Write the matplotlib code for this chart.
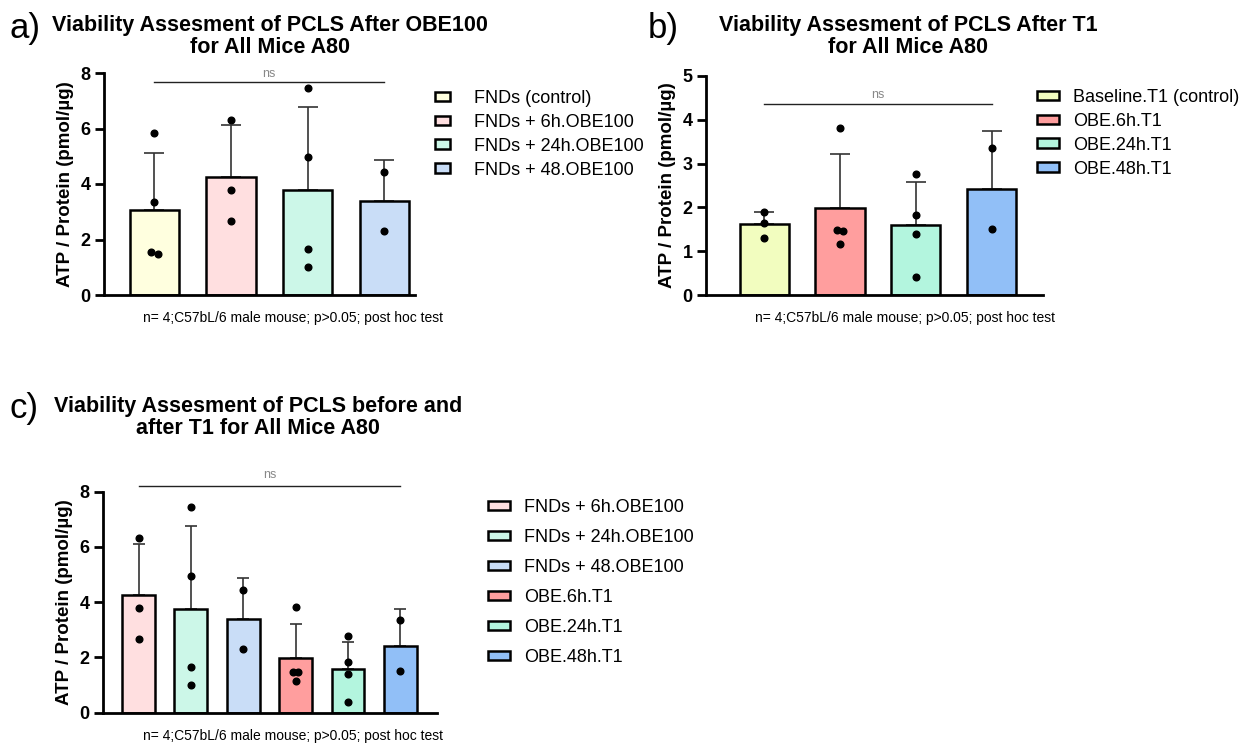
import matplotlib
matplotlib.use('Agg')

import numpy as np
import matplotlib.pyplot as plt
from matplotlib.patches import Patch

plt.rcParams['font.family'] = ['Liberation Sans', 'DejaVu Sans']

W, H = 1241, 744

fnd_ctrl = [5.85, 3.35, 1.56, 1.48]
fnd_6h = [6.31, 3.78, 2.68]
fnd_24h = [7.45, 4.96, 1.66, 1.00]
fnd_48h = [4.44, 2.32]
base_t1 = [1.89, 1.64, 1.30]
obe_6h = [3.82, 1.49, 1.46, 1.16]
obe_24h = [2.76, 1.83, 1.39, 0.40]
obe_48h = [3.36, 1.50]

labels_a = ['FNDs (control)', 'FNDs + 6h.OBE100', 'FNDs + 24h.OBE100', 'FNDs + 48.OBE100']
labels_b = ['Baseline.T1 (control)', 'OBE.6h.T1', 'OBE.24h.T1', 'OBE.48h.T1']
labels_c = labels_a[1:] + labels_b[1:]

colors_a = ['#FFFFDF', '#FFDFE0', '#CCF7E8', '#C9DDF7']
colors_b = ['#F2FDBF', '#FF9E9E', '#B3F5DE', '#91BFF7']

note = 'n= 4;C57bL/6 male mouse; p>0.05; post hoc test'
ylab = 'ATP / Protein (pmol/µg)'


def px_axes(fig, left, top, right, bottom):
    return fig.add_axes([left / W, 1 - bottom / H, (right - left) / W, (bottom - top) / H])


def bar_panel(ax, groups, colors, width, capsize, ymax, ystep, xlim, ns_y, ns_text_y):
    x = np.arange(len(groups))
    means = [np.mean(g) for g in groups]
    sds = [np.std(g, ddof=1) for g in groups]
    ax.bar(x, means, width=width, color=colors, edgecolor='black', linewidth=1.8, zorder=2)
    ax.errorbar(x, means, yerr=[np.zeros(len(groups)), sds], fmt='none', ecolor='#333333',
                elinewidth=1.2, capsize=capsize, capthick=1.2, zorder=1)
    for i, g in enumerate(groups):
        g = np.array(g)
        offs = np.zeros(len(g))
        for j in range(len(g)):
            for k in range(j + 1, len(g)):
                if abs(g[j] - g[k]) < 0.15:
                    offs[j] = -0.045
                    offs[k] = 0.045
        ax.plot(i + offs, g, 'o', color='black', ms=4.8, zorder=3, clip_on=False)
    ax.set_ylim(0, ymax)
    ax.set_yticks(np.arange(0, ymax + 0.01, ystep))
    ax.set_xlim(*xlim)
    ax.set_xticks([])
    for s in ['top', 'right']:
        ax.spines[s].set_visible(False)
    for s in ['left', 'bottom']:
        ax.spines[s].set_linewidth(2.0)
    ax.tick_params(axis='y', width=2.0, length=6.5, labelsize=13, pad=3)
    for t in ax.get_yticklabels():
        t.set_fontweight('bold')
    ax.set_ylabel(ylab, fontsize=13.5, fontweight='bold', labelpad=5)
    ax.plot([0, len(groups) - 1], [ns_y, ns_y], color='#222222', lw=1.0, clip_on=False)
    ax.text((len(groups) - 1) / 2, ns_text_y, 'ns', ha='center', va='center',
            fontsize=9, color='#888888', clip_on=False)


def add_legend(ax, colors, labels, left, top, hlen, pad, spacing):
    handles = [Patch(facecolor=c, edgecolor='black', lw=1.8) for c in colors]
    ax.legend(handles, labels, loc='upper left', bbox_to_anchor=(left / W, 1 - top / H),
              bbox_transform=ax.figure.transFigure, frameon=False, fontsize=13,
              handlelength=hlen, handleheight=0.45, handletextpad=pad,
              labelspacing=spacing, borderpad=0, borderaxespad=0)


fig = plt.figure(figsize=(W / 100, H / 100), dpi=100)

# panel a
ax_a = px_axes(fig, 104, 73, 415, 295)
bar_panel(ax_a, [fnd_ctrl, fnd_6h, fnd_24h, fnd_48h], colors_a, 0.64, 7.5, 8, 2,
          (-0.656, 3.4), 7.69, 7.98)
add_legend(ax_a, colors_a, labels_a, 435, 90, 0.85, 1.3, 0.38)

# panel b
ax_b = px_axes(fig, 706, 76, 1043, 295)
bar_panel(ax_b, [base_t1, obe_6h, obe_24h, obe_48h], colors_b, 0.65, 7.5, 5, 1,
          (-0.77, 3.68), 4.35, 4.56)
add_legend(ax_b, colors_b, labels_b, 1037, 89, 1.2, 0.8, 0.38)

# panel c
ax_c = px_axes(fig, 103, 491.7, 437, 712.7)
bar_panel(ax_c, [fnd_6h, fnd_24h, fnd_48h, obe_6h, obe_24h, obe_48h],
          colors_a[1:] + colors_b[1:], 0.63, 4.5, 8, 2, (-0.68, 5.70), 8.19, 8.62)
add_legend(ax_c, colors_a[1:] + colors_b[1:], labels_c, 488, 499, 1.2, 0.8, 0.72)

# titles, panel letters, footnotes
fig.text(270 / W, 1 - 15 / H, 'Viability Assesment of PCLS After OBE100\nfor All Mice A80',
         ha='center', va='top', fontsize=15.5, fontweight='bold', linespacing=1.05)
fig.text(908 / W, 1 - 15 / H, 'Viability Assesment of PCLS After T1\nfor All Mice A80',
         ha='center', va='top', fontsize=15.5, fontweight='bold', linespacing=1.05)
fig.text(258 / W, 1 - 396 / H, 'Viability Assesment of PCLS before and\nafter T1 for All Mice A80',
         ha='center', va='top', fontsize=15.5, fontweight='bold', linespacing=1.05)

fig.text(10 / W, 1 - 12 / H, 'a)', ha='left', va='top', fontsize=25)
fig.text(648 / W, 1 - 12 / H, 'b)', ha='left', va='top', fontsize=25)
fig.text(10 / W, 1 - 392 / H, 'c)', ha='left', va='top', fontsize=25)

fig.text(143 / W, 1 - 318 / H, note, ha='left', va='center', fontsize=10)
fig.text(755 / W, 1 - 318 / H, note, ha='left', va='center', fontsize=10)
fig.text(143 / W, 1 - 736 / H, note, ha='left', va='center', fontsize=10)

fig.savefig('out.png', dpi=100)
